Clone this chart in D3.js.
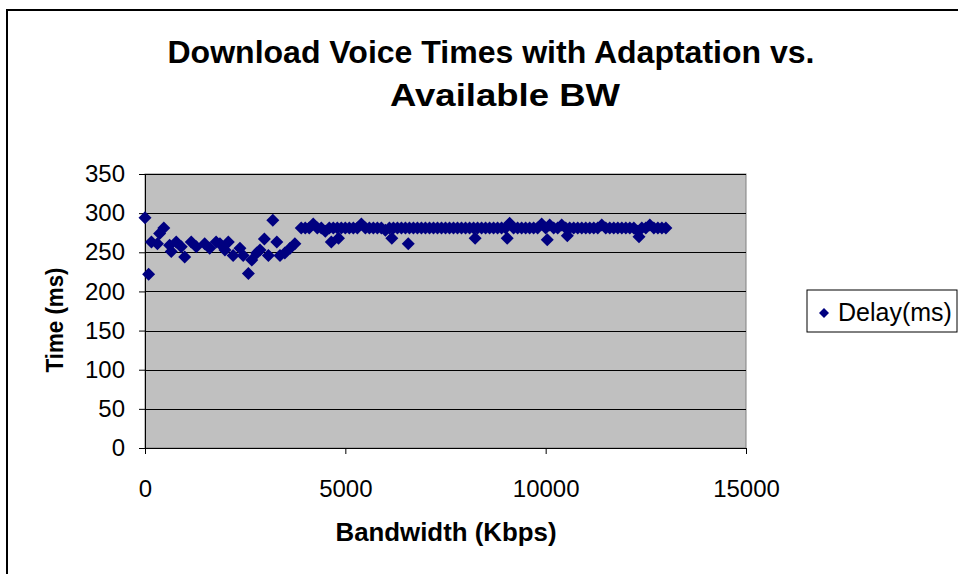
<!DOCTYPE html>
<html>
<head>
<meta charset="utf-8">
<script src="https://d3js.org/d3.v7.min.js"></script>
<style>
  body { margin: 0; background: #fff; }
  svg { display: block; font-family: "Liberation Sans", Arial, sans-serif; }
</style>
</head>
<body>
<div id="chart"></div>
<script>
// Data: bandwidth (Kbps) and delay (ms)
const bandwidth = [
  0, 90, 160, 310, 365, 470, 615, 655, 780, 905,
  990, 1155, 1280, 1490, 1615, 1775, 1870, 1995, 2080, 2200,
  2370, 2450, 2580, 2665, 2790, 2870, 2980, 3080, 3190, 3290,
  3370, 3490, 3620, 3740,
  3900, 4000, 4100, 4200, 4300, 4400, 4500, 4600, 4700, 4800,
  4900, 5000, 5100, 5200, 5300, 5400, 5500, 5600, 5700, 5800,
  5900, 6000, 6100, 6200, 6300, 6400, 6500, 6600, 6700, 6800,
  6900, 7000, 7100, 7200, 7300, 7400, 7500, 7600, 7700, 7800,
  7900, 8000, 8100, 8200, 8300, 8400, 8500, 8600, 8700, 8800,
  8900, 9000, 9100, 9200, 9300, 9400, 9500, 9600, 9700, 9800,
  9900, 10000, 10100, 10200, 10300, 10400, 10500, 10600, 10700, 10800,
  10900, 11000, 11100, 11200, 11300, 11400, 11500, 11600, 11700, 11800,
  11900, 12000, 12100, 12200, 12300, 12400, 12500, 12600, 12700, 12800,
  12900, 13000,
  4650, 4830, 6160, 6570, 8240, 9040, 10040, 10540, 12330
];
const delay = [
  294, 222, 263, 261, 274, 281, 259, 251, 263, 257,
  244, 263, 257, 261, 255, 263, 261, 253, 263, 246,
  255, 246, 223, 240, 249, 253, 267, 246, 291, 263,
  246, 249, 255, 261,
  281, 281, 281, 286, 281, 281, 277, 281, 281, 281,
  281, 281, 281, 281, 281, 286, 281, 281, 281, 281,
  281, 278, 281, 281, 281, 281, 281, 281, 281, 281,
  281, 281, 281, 281, 281, 281, 281, 281, 281, 281,
  281, 281, 281, 281, 281, 281, 281, 281, 281, 281,
  281, 281, 287, 281, 281, 281, 281, 281, 281, 281,
  286, 281, 285, 281, 281, 285, 281, 281, 281, 281,
  281, 281, 281, 281, 281, 285, 281, 281, 281, 281,
  281, 281, 281, 281, 277, 281, 281, 285, 281, 281,
  281, 281,
  263, 268, 268, 261, 268, 268, 266, 271, 270
];
const xTicks = [0, 5000, 10000, 15000];
const yTicks = [0, 50, 100, 150, 200, 250, 300, 350];
const titleLines = ["Download Voice Times with Adaptation vs.", "Available BW"];
const seriesName = "Delay(ms)";

const points = bandwidth.map((b, i) => ({ bw: b, delay: delay[i] }));

const W = 958, H = 574;
const svg = d3.select("#chart").append("svg")
  .attr("width", W)
  .attr("height", H);

// outer chart frame (runs off the right/bottom edge)
svg.append("rect")
  .attr("x", 7).attr("y", 10)
  .attr("width", 1000).attr("height", 600)
  .attr("fill", "#fff")
  .attr("stroke", "#000")
  .attr("stroke-width", 2);

// plot area
const plot = { left: 145, right: 746, top: 174, bottom: 448 };

const x = d3.scaleLinear().domain([0, 15000]).range([plot.left, plot.right]);
const y = d3.scaleLinear().domain([0, 350]).range([plot.bottom, plot.top]);

svg.append("rect")
  .attr("x", plot.left).attr("y", plot.top)
  .attr("width", plot.right - plot.left)
  .attr("height", plot.bottom - plot.top)
  .attr("fill", "#c0c0c0")
  .attr("stroke", "#808080")
  .attr("stroke-width", 1);

// horizontal gridlines
svg.append("g")
  .selectAll("line")
  .data(yTicks.filter(d => d > 0))
  .enter().append("line")
  .attr("x1", plot.left).attr("x2", plot.right)
  .attr("y1", d => Math.round(y(d)) + 0.5)
  .attr("y2", d => Math.round(y(d)) + 0.5)
  .attr("stroke", "#000")
  .attr("stroke-width", 1);

// axes
const yAxis = svg.append("g")
  .attr("transform", `translate(${plot.left},0)`)
  .call(d3.axisLeft(y).tickValues(yTicks).tickSize(6).tickPadding(14).tickSizeOuter(0));
const xAxis = svg.append("g")
  .attr("transform", `translate(0,${plot.bottom})`)
  .call(d3.axisBottom(x).tickValues(xTicks).tickFormat(d3.format("d")).tickSize(6).tickPadding(26).tickSizeOuter(0));

[xAxis, yAxis].forEach(g => {
  g.select(".domain").attr("stroke", "#000");
  g.selectAll(".tick line").attr("stroke", "#000");
  g.selectAll("text")
    .attr("fill", "#000")
    .style("font-size", "24px")
    .style("font-family", "Liberation Sans, Arial, sans-serif");
});

// markers
const diamond = r => `M0,${-r}L${r},0L0,${r}L${-r},0Z`;
svg.append("g")
  .selectAll("path")
  .data(points)
  .enter().append("path")
  .attr("d", diamond(6.5))
  .attr("transform", d => `translate(${x(d.bw)},${y(d.delay)})`)
  .attr("fill", "#000080");

// title
const titleWidths = [647, 230];
svg.append("g")
  .selectAll("text")
  .data(titleLines)
  .enter().append("text")
  .attr("x", (d, i) => i === 0 ? 491 : 505)
  .attr("y", (d, i) => 63 + i * 43)
  .attr("text-anchor", "middle")
  .attr("textLength", (d, i) => titleWidths[i])
  .attr("lengthAdjust", "spacingAndGlyphs")
  .style("font-size", "31px")
  .style("font-weight", "bold")
  .text(d => d);

// axis titles
svg.append("text")
  .attr("x", 446)
  .attr("y", 541)
  .attr("text-anchor", "middle")
  .attr("textLength", 221)
  .attr("lengthAdjust", "spacingAndGlyphs")
  .style("font-size", "25px")
  .style("font-weight", "bold")
  .text("Bandwidth (Kbps)");

svg.append("text")
  .attr("transform", `translate(63,320) rotate(-90)`)
  .attr("text-anchor", "middle")
  .attr("textLength", 105)
  .attr("lengthAdjust", "spacingAndGlyphs")
  .style("font-size", "24px")
  .style("font-weight", "bold")
  .text("Time (ms)");

// legend
const legend = svg.append("g").attr("transform", "translate(807,290)");
legend.append("rect")
  .attr("width", 150).attr("height", 42)
  .attr("fill", "#fff")
  .attr("stroke", "#000")
  .attr("stroke-width", 1);
legend.append("path")
  .attr("d", diamond(5))
  .attr("transform", "translate(17,23)")
  .attr("fill", "#000080");
legend.append("text")
  .attr("x", 31).attr("y", 31)
  .style("font-size", "25px")
  .text(seriesName);
</script>
</body>
</html>
